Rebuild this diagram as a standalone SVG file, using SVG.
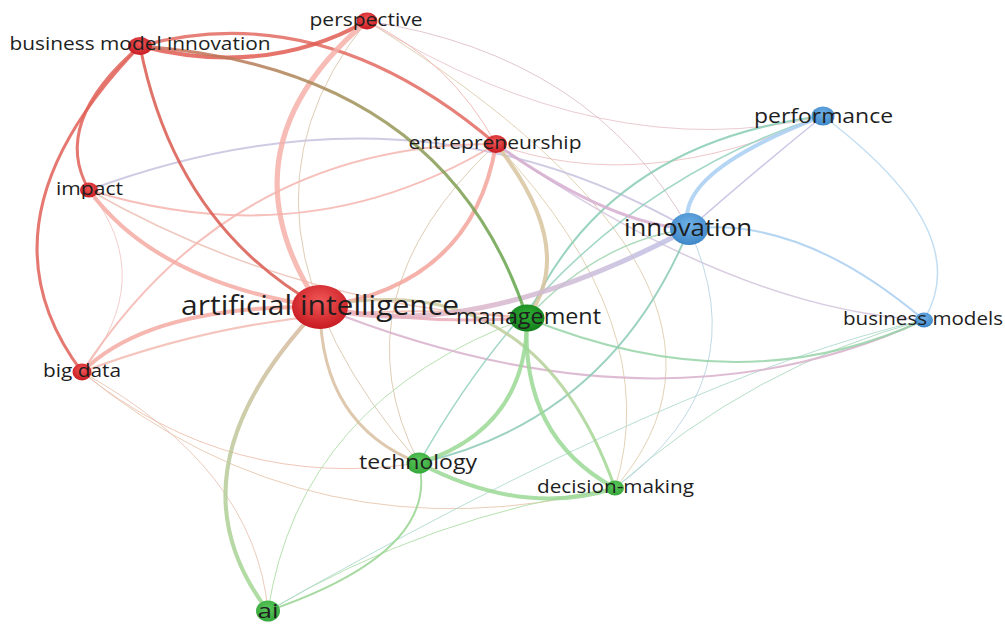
<svg xmlns="http://www.w3.org/2000/svg" width="1005" height="624" viewBox="0 0 1005 624">
<defs>
<radialGradient id="gRed" cx="50%" cy="38%" r="60%"><stop offset="0" stop-color="#f25858"/><stop offset="1" stop-color="#c81c22"/></radialGradient>
<radialGradient id="gGreen" cx="50%" cy="38%" r="60%"><stop offset="0" stop-color="#5cc75c"/><stop offset="1" stop-color="#36a83c"/></radialGradient>
<radialGradient id="gGreenDark" cx="50%" cy="38%" r="60%"><stop offset="0" stop-color="#2fae34"/><stop offset="1" stop-color="#14801c"/></radialGradient>
<radialGradient id="gBlue" cx="50%" cy="38%" r="60%"><stop offset="0" stop-color="#70b2e8"/><stop offset="1" stop-color="#4088c8"/></radialGradient>
<linearGradient id="eBmiMgt" gradientUnits="userSpaceOnUse" x1="140" y1="46" x2="527" y2="318"><stop offset="0" stop-color="#cc6a58"/><stop offset="0.5" stop-color="#9a9658"/><stop offset="1" stop-color="#5aa848"/></linearGradient>
<linearGradient id="eAiDm" gradientUnits="userSpaceOnUse" x1="320" y1="307" x2="615" y2="488"><stop offset="0" stop-color="#dcc4a4"/><stop offset="1" stop-color="#9ed892"/></linearGradient>
<linearGradient id="eAiAi" gradientUnits="userSpaceOnUse" x1="320" y1="307" x2="268" y2="611"><stop offset="0" stop-color="#dcb8a0"/><stop offset="1" stop-color="#9ed892"/></linearGradient>
<linearGradient id="eAiInn" gradientUnits="userSpaceOnUse" x1="320" y1="307" x2="689" y2="229"><stop offset="0" stop-color="#f0b0b8"/><stop offset="1" stop-color="#bcc0e6"/></linearGradient>
</defs>
<style>
.e{fill:none;stroke-linecap:round;opacity:0.85}
.lbl{font-family:"Open Sans","Liberation Sans",sans-serif;fill:#1e1e1e;text-anchor:middle}
</style>
<rect width="1005" height="624" fill="#ffffff"/>
<g id="connectors">
<path class="e" d="M367,21 Q790,286 615,488" stroke="#dccaa8" stroke-width="1"/>
<path class="e" d="M367,21 Q605,168 823,116" stroke="#e6c2c8" stroke-width="1"/>
<path class="e" d="M367,21 Q593,55 689,229" stroke="#dcbcc8" stroke-width="1"/>
<path class="e" d="M367,21 Q450,60 496,144" stroke="#eeb4b0" stroke-width="1"/>
<path class="e" d="M367,21 Q207,218 419,463" stroke="#d8c4a8" stroke-width="1"/>
<path class="e" d="M496,144 Q641,197 823,116" stroke="#ecbcbc" stroke-width="1"/>
<path class="e" d="M496,144 Q731,309 924,320" stroke="#d2c2dc" stroke-width="1.5"/>
<path class="e" d="M496,144 Q666,325 615,488" stroke="#dccaa8" stroke-width="1"/>
<path class="e" d="M496,144 Q333,297 419,463" stroke="#d8c4a8" stroke-width="1"/>
<path class="e" d="M89,190 Q413,70 689,229" stroke="#c8c2de" stroke-width="2"/>
<path class="e" d="M89,190 Q309,258 496,144" stroke="#f4b4ae" stroke-width="2"/>
<path class="e" d="M89,190 Q292,306 527,318" stroke="#ecc0b4" stroke-width="1.5"/>
<path class="e" d="M89,190 Q159,279 82,372" stroke="#f0c6c2" stroke-width="1"/>
<path class="e" d="M82,372 Q232,143 496,144" stroke="#f4b6b0" stroke-width="2"/>
<path class="e" d="M82,372 Q295,291 527,318" stroke="#f2bab2" stroke-width="2"/>
<path class="e" d="M82,372 Q230,492 419,463" stroke="#ecbcaa" stroke-width="1"/>
<path class="e" d="M82,372 Q313,562 615,488" stroke="#e6c4aa" stroke-width="1"/>
<path class="e" d="M82,372 Q255,468 268,611" stroke="#e8c2b2" stroke-width="1"/>
<path class="e" d="M268,611 Q300,400 527,318" stroke="#aadca2" stroke-width="1"/>
<path class="e" d="M268,611 Q430,515 615,488" stroke="#aadca2" stroke-width="1"/>
<path class="e" d="M268,611 Q685,374 924,320" stroke="#aad8cc" stroke-width="1"/>
<path class="e" d="M615,488 Q752,366 924,320" stroke="#a8d8bc" stroke-width="1"/>
<path class="e" d="M689,229 Q760,382 615,488" stroke="#b4d2e2" stroke-width="1"/>
<path class="e" d="M823,116 Q977,232 924,320" stroke="#b8d8f0" stroke-width="1.5"/>
<path class="e" d="M320,307 Q659,443 924,320" stroke="#d8b2cc" stroke-width="2"/>
<path class="e" d="M527,318 Q741,405 924,320" stroke="#96d4a8" stroke-width="2"/>
<path class="e" d="M689,229 Q800,215 924,320" stroke="#a8cef0" stroke-width="2"/>
<path class="e" d="M419,463 Q570,195 823,116" stroke="#90d0bc" stroke-width="1.5"/>
<path class="e" d="M527,318 Q605,143 823,116" stroke="#88ccb4" stroke-width="2"/>
<path class="e" d="M823,116 Q750,175 689,229" stroke="#c2bee2" stroke-width="1.5"/>
<path class="e" d="M689,229 Q671,174 823,116" stroke="#a8cef2" stroke-width="4"/>
<path class="e" d="M419,463 Q610,420 689,229" stroke="#8ccab6" stroke-width="2"/>
<path class="e" d="M527,318 Q600,240 689,229" stroke="#a2d6b2" stroke-width="1.5"/>
<path class="e" d="M496,144 Q609,224 689,229" stroke="#d6aed0" stroke-width="3"/>
<path class="e" d="M140,46 Q-31,222 82,372" stroke="#e06258" stroke-width="3"/>
<path class="e" d="M140,46 Q50,123 89,190" stroke="#e06258" stroke-width="3"/>
<path class="e" d="M140,46 Q175,225 320,307" stroke="#d95a50" stroke-width="3"/>
<path class="e" d="M140,46 Q323,-4 496,144" stroke="#e26a60" stroke-width="3"/>
<path class="e" d="M140,46 Q266,78 367,21" stroke="#e05c52" stroke-width="4"/>
<path class="e" d="M367,21 Q215,150 320,307" stroke="#f5b0a8" stroke-width="5"/>
<path class="e" d="M89,190 Q156,282 320,307" stroke="#f4aaa2" stroke-width="4"/>
<path class="e" d="M82,372 Q149,305 320,307" stroke="#f4aaa2" stroke-width="4"/>
<path class="e" d="M496,144 Q473,285 320,307" stroke="#f2a49c" stroke-width="4"/>
<path class="e" d="M496,144 Q579,249 527,318" stroke="#d8c49e" stroke-width="4"/>
<path class="e" d="M320,307 Q321,425 419,463" stroke="#d8bea0" stroke-width="3"/>
<path class="e" d="M320,307 Q162,472 268,611" stroke="url(#eAiAi)" stroke-width="4"/>
<path class="e" d="M320,307 Q534,262 615,488" stroke="url(#eAiDm)" stroke-width="3"/>
<path class="e" d="M320,307 Q425,325 527,318" stroke="#eaaab8" stroke-width="3"/>
<path class="e" d="M320,307 Q470,345 689,229" stroke="url(#eAiInn)" stroke-width="5"/>
<path class="e" d="M419,463 Q440,552 268,611" stroke="#98d490" stroke-width="2"/>
<path class="e" d="M419,463 Q524,518 615,488" stroke="#9ad894" stroke-width="4"/>
<path class="e" d="M527,318 Q527,429 419,463" stroke="#9ad894" stroke-width="4"/>
<path class="e" d="M527,318 Q520,437 615,488" stroke="#9ad894" stroke-width="4"/>
<path class="e" d="M140,46 Q446,68 527,318" stroke="url(#eBmiMgt)" stroke-width="3"/>
</g>
<g id="node-artificial-intelligence"><ellipse cx="320" cy="307" rx="28" ry="22" fill="url(#gRed)"/><text class="lbl" x="320" y="315" font-size="27" textLength="278" lengthAdjust="spacingAndGlyphs">artificial intelligence</text></g>
<g id="node-business-model-innovation"><ellipse cx="140" cy="46" rx="12" ry="9" fill="url(#gRed)"/><text class="lbl" x="140" y="50" font-size="18.5" textLength="261" lengthAdjust="spacingAndGlyphs">business model innovation</text></g>
<g id="node-perspective"><ellipse cx="367" cy="21" rx="10.5" ry="8.5" fill="url(#gRed)"/><text class="lbl" x="366" y="26" font-size="19" textLength="113" lengthAdjust="spacingAndGlyphs">perspective</text></g>
<g id="node-entrepreneurship"><ellipse cx="496" cy="144" rx="11" ry="9" fill="url(#gRed)"/><text class="lbl" x="495" y="149" font-size="19" textLength="173" lengthAdjust="spacingAndGlyphs">entrepreneurship</text></g>
<g id="node-impact"><ellipse cx="89" cy="190" rx="9" ry="7.5" fill="url(#gRed)"/><text class="lbl" x="89.5" y="195" font-size="19" textLength="67" lengthAdjust="spacingAndGlyphs">impact</text></g>
<g id="node-big-data"><ellipse cx="82" cy="372" rx="9.5" ry="8.5" fill="url(#gRed)"/><text class="lbl" x="82" y="377" font-size="18.5" textLength="78" lengthAdjust="spacingAndGlyphs">big data</text></g>
<g id="node-performance"><ellipse cx="823" cy="116" rx="11.5" ry="9.5" fill="url(#gBlue)"/><text class="lbl" x="823.5" y="123" font-size="20" textLength="139" lengthAdjust="spacingAndGlyphs">performance</text></g>
<g id="node-innovation"><ellipse cx="689" cy="229" rx="19" ry="16" fill="url(#gBlue)"/><text class="lbl" x="688" y="236" font-size="23" textLength="128" lengthAdjust="spacingAndGlyphs">innovation</text></g>
<g id="node-business-models"><ellipse cx="924" cy="320" rx="9" ry="7.5" fill="url(#gBlue)"/><text class="lbl" x="923" y="325" font-size="18.5" textLength="160" lengthAdjust="spacingAndGlyphs">business models</text></g>
<g id="node-management"><ellipse cx="527" cy="318" rx="17.5" ry="13.5" fill="url(#gGreenDark)"/><text class="lbl" x="528.5" y="324" font-size="21" textLength="145" lengthAdjust="spacingAndGlyphs">management</text></g>
<g id="node-technology"><ellipse cx="419" cy="463" rx="12.5" ry="10.5" fill="url(#gGreen)"/><text class="lbl" x="418" y="469" font-size="20" textLength="118" lengthAdjust="spacingAndGlyphs">technology</text></g>
<g id="node-decision-making"><ellipse cx="615" cy="488" rx="9" ry="7.5" fill="url(#gGreen)"/><text class="lbl" x="615.5" y="493" font-size="18.5" textLength="157" lengthAdjust="spacingAndGlyphs">decision-making</text></g>
<g id="node-ai"><ellipse cx="268" cy="611" rx="12" ry="10.5" fill="url(#gGreen)"/><text class="lbl" x="268" y="618" font-size="20" textLength="21" lengthAdjust="spacingAndGlyphs">ai</text></g>
</svg>
